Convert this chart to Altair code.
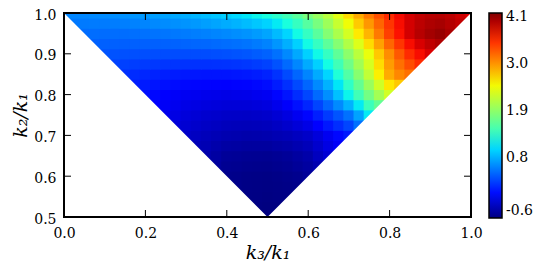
import altair as alt
import pandas as pd

# ---- values -----------------------------------------------------------
# rows of k2/k1 = 0.500, 0.525, ..., 1.000 ; each row lists the shape value
# for k3/k1 running from (1 - k2/k1) to k2/k1 in steps of 0.025
rows = [
    [-0.60],
    [-0.59, -0.60, -0.60],
    [-0.58, -0.585, -0.59, -0.585, -0.58],
    [-0.56, -0.575, -0.58, -0.585, -0.58, -0.57, -0.56],
    [-0.55, -0.56, -0.57, -0.575, -0.58, -0.57, -0.56, -0.54, -0.50],
    [-0.48, -0.525, -0.535, -0.545, -0.55, -0.555, -0.54, -0.53, -0.50, -0.465, -0.40],
    [-0.42, -0.46, -0.50, -0.51, -0.52, -0.525, -0.53, -0.515, -0.50, -0.465, -0.43, -0.34, -0.25],
    [-0.37, -0.39, -0.42, -0.45, -0.46, -0.47, -0.47, -0.47, -0.45, -0.435, -0.40, -0.365, -0.28, -0.19, -0.10],
    [-0.30, -0.33, -0.36, -0.38, -0.40, -0.41, -0.42, -0.415, -0.41, -0.39, -0.37, -0.34, -0.30, -0.22, -0.13, -0.04, 0.05],
    [-0.23, -0.26, -0.29, -0.315, -0.33, -0.35, -0.36, -0.365, -0.36, -0.35, -0.32, -0.285, -0.235, -0.175, -0.07, 0.045, 0.155, 0.275, 0.50],
    [-0.15, -0.185, -0.22, -0.245, -0.27, -0.285, -0.30, -0.305, -0.31, -0.30, -0.29, -0.25, -0.20, -0.13, -0.05, 0.08, 0.22, 0.35, 0.50, 0.75, 1.10],
    [-0.07, -0.11, -0.14, -0.17, -0.19, -0.21, -0.22, -0.235, -0.235, -0.235, -0.22, -0.205, -0.15, -0.085, 0.01, 0.115, 0.27, 0.435, 0.625, 0.825, 1.10, 1.425, 1.65],
    [0.0, -0.035, -0.07, -0.095, -0.12, -0.135, -0.15, -0.16, -0.17, -0.165, -0.16, -0.14, -0.12, -0.05, 0.03, 0.15, 0.28, 0.46, 0.65, 0.90, 1.15, 1.45, 1.75, 2.03, 2.30],
    [0.08, 0.06, 0.03, 0.005, -0.015, -0.035, -0.05, -0.06, -0.065, -0.07, -0.06, -0.055, -0.035, -0.01, 0.065, 0.165, 0.295, 0.44, 0.625, 0.825, 1.08, 1.35, 1.66, 1.975, 2.29, 2.60, 2.75],
    [0.17, 0.145, 0.12, 0.10, 0.08, 0.065, 0.05, 0.04, 0.03, 0.03, 0.03, 0.04, 0.05, 0.07, 0.10, 0.18, 0.30, 0.44, 0.60, 0.79, 1.0, 1.26, 1.55, 1.87, 2.2, 2.55, 2.9, 3.08, 3.2],
    [0.26, 0.25, 0.235, 0.22, 0.21, 0.195, 0.19, 0.18, 0.175, 0.17, 0.175, 0.18, 0.19, 0.205, 0.23, 0.26, 0.34, 0.46, 0.61, 0.79, 0.98, 1.19, 1.445, 1.725, 2.02, 2.325, 2.65, 2.975, 3.2, 3.375, 3.55],
    [0.35, 0.34, 0.33, 0.325, 0.32, 0.315, 0.31, 0.31, 0.31, 0.31, 0.31, 0.32, 0.33, 0.345, 0.36, 0.39, 0.42, 0.50, 0.62, 0.78, 0.98, 1.17, 1.38, 1.63, 1.9, 2.17, 2.45, 2.75, 3.05, 3.32, 3.55, 3.70, 3.82],
    [0.42, 0.41, 0.41, 0.405, 0.41, 0.41, 0.41, 0.415, 0.42, 0.43, 0.44, 0.445, 0.46, 0.475, 0.495, 0.515, 0.55, 0.59, 0.685, 0.81, 0.98, 1.18, 1.385, 1.615, 1.855, 2.11, 2.375, 2.65, 2.95, 3.25, 3.5, 3.7, 3.835, 3.935, 4.0],
    [0.48, 0.475, 0.47, 0.475, 0.48, 0.49, 0.50, 0.51, 0.52, 0.535, 0.55, 0.565, 0.58, 0.60, 0.62, 0.645, 0.67, 0.71, 0.76, 0.87, 1.00, 1.18, 1.38, 1.6, 1.85, 2.08, 2.32, 2.58, 2.85, 3.15, 3.45, 3.68, 3.85, 3.97, 4.05, 4.1, 4.02],
    [0.54, 0.545, 0.55, 0.55, 0.56, 0.57, 0.585, 0.60, 0.62, 0.635, 0.655, 0.675, 0.70, 0.73, 0.76, 0.795, 0.83, 0.875, 0.93, 0.99, 1.10, 1.225, 1.39, 1.58, 1.78, 2.0, 2.24, 2.485, 2.74, 3.0, 3.255, 3.5, 3.70, 3.85, 3.95, 4.01, 4.04, 3.985, 3.92],
    [0.60, 0.605, 0.61, 0.62, 0.63, 0.645, 0.66, 0.68, 0.70, 0.725, 0.75, 0.775, 0.80, 0.84, 0.88, 0.92, 0.97, 1.02, 1.08, 1.15, 1.22, 1.33, 1.45, 1.6, 1.78, 1.96, 2.15, 2.4, 2.65, 2.9, 3.15, 3.36, 3.55, 3.72, 3.85, 3.93, 3.97, 3.98, 3.95, 3.88, 3.80],
]

x_ticks = [0.0, 0.2, 0.4, 0.6, 0.8, 1.0]
y_ticks = [0.5, 0.6, 0.7, 0.8, 0.9, 1.0]
cbar_ticks = [-0.6, 0.8, 1.9, 3.0, 4.1]
cbar_min, cbar_max = -0.6, 4.2

# triangle outline (k2 >= k3, k2 >= k1 - k3) used to blank the unphysical region
mask_x = [0.0, 0.5, 1.0]
mask_top = [1.0, 0.5, 1.0]

# ---- tables ------------------------------------------------------------
step = 0.025
ov = 0.0012   # tiny overlap so neighbouring cells leave no hairline seams
recs = []
for j, row in enumerate(rows):
    yc = 0.5 + step * j
    assert len(row) == 2 * j + 1, (j, len(row))
    xs0 = 1.0 - yc
    for m, v in enumerate(row):
        xc = xs0 + step * m
        recs.append({"x0": round(xc - step / 2 - ov, 5), "x1": round(xc + step / 2 + ov, 5),
                     "y0": round(yc - step / 2 - ov, 5), "y1": round(yc + step / 2 + ov, 5),
                     "v": v})
cells = pd.DataFrame(recs)
mask_df = pd.DataFrame({"x": mask_x, "top": mask_top})
xt_df = pd.DataFrame({"t": x_ticks})
yt_df = pd.DataFrame({"t": y_ticks})
one = pd.DataFrame({"a": [0]})

# jet colormap stops
jet_t = [0.0, 0.11, 0.34, 0.35, 0.375, 0.64, 0.65, 0.66, 0.89, 0.91, 1.0]
jet_c = ["#000080", "#0000ff", "#00dbff", "#00e6f7", "#15ffe2", "#eeff08",
         "#f7f600", "#ffec00", "#ff1300", "#e80000", "#800000"]
jet_dom = [cbar_min + (cbar_max - cbar_min) * t for t in jet_t]

W, H = 407, 204
FONT = "DejaVu Serif"
TL = 7

xs = alt.Scale(domain=[0, 1], nice=False, zero=False)
ys = alt.Scale(domain=[0.5, 1], nice=False, zero=False)
cs = alt.Scale(domain=jet_dom, range=jet_c, interpolate="rgb", clamp=True)

xaxis = alt.Axis(values=x_ticks, format=".1f", title="k₃/k₁", ticks=False, tickSize=0,
                 domain=False, grid=False, labelFlush=False, labelOverlap=False,
                 labelPadding=9, titlePadding=3, labelFont=FONT, labelFontSize=14,
                 labelColor="black", titleFont=FONT, titleFontSize=19,
                 titleFontStyle="italic", titleFontWeight="normal", titleColor="black")
yaxis = alt.Axis(values=y_ticks, format=".1f", title="k₂/k₁", ticks=False, tickSize=0,
                 domain=False, grid=False, labelFlush=False, labelOverlap=False,
                 labelPadding=8, labelOffset=2, titlePadding=3, labelFont=FONT,
                 labelFontSize=14, labelColor="black", titleFont=FONT, titleFontSize=19,
                 titleFontStyle="italic", titleFontWeight="normal", titleColor="black")

legend = alt.Legend(title=None, type="gradient", values=cbar_ticks, format=".1f",
                    labelExpr="replace(datum.label, '\u2212', '-')",
                    orient="right", direction="vertical",
                    offset=18, padding=0, gradientLength=205, gradientThickness=13,
                    gradientStrokeColor="black", gradientStrokeWidth=1.5,
                    labelFont=FONT, labelFontSize=14, labelColor="black", labelOffset=4)

heat = alt.Chart(cells).mark_rect(clip=True, strokeWidth=0).encode(
    x=alt.X("x0:Q", scale=xs, axis=xaxis), x2="x1:Q",
    y=alt.Y("y0:Q", scale=ys, axis=yaxis), y2="y1:Q",
    color=alt.Color("v:Q", scale=cs, legend=legend),
)

mask = alt.Chart(mask_df).mark_area(color="white", clip=True, opacity=1).encode(
    x=alt.X("x:Q", scale=xs, axis=xaxis),
    y=alt.Y("top:Q", scale=ys, axis=yaxis),
    y2=alt.datum(0.5),
)

tick_style = dict(color="black", strokeWidth=1)
xt_bottom = alt.Chart(xt_df).mark_rule(**tick_style).encode(
    x=alt.X("t:Q", scale=xs, axis=xaxis), y=alt.value(H), y2=alt.value(H - TL))
xt_top = alt.Chart(xt_df).mark_rule(**tick_style).encode(
    x=alt.X("t:Q", scale=xs, axis=xaxis), y=alt.value(0), y2=alt.value(TL))
yt_left = alt.Chart(yt_df).mark_rule(**tick_style).encode(
    y=alt.Y("t:Q", scale=ys, axis=yaxis), x=alt.value(0), x2=alt.value(TL))
yt_right = alt.Chart(yt_df).mark_rule(**tick_style).encode(
    y=alt.Y("t:Q", scale=ys, axis=yaxis), x=alt.value(W), x2=alt.value(W - TL))

frame = alt.Chart(one).mark_rect(filled=False, stroke="black", strokeWidth=2).encode(
    x=alt.value(0), x2=alt.value(W), y=alt.value(0), y2=alt.value(H))

chart = alt.layer(heat, mask, xt_bottom, xt_top, yt_left, yt_right, frame).properties(
    width=W, height=H, background="white",
    padding={"left": 3, "top": 0, "right": 0, "bottom": 0}
).configure_view(stroke=None)

chart.save("out.html", embed_options={"renderer": "svg", "actions": False})
